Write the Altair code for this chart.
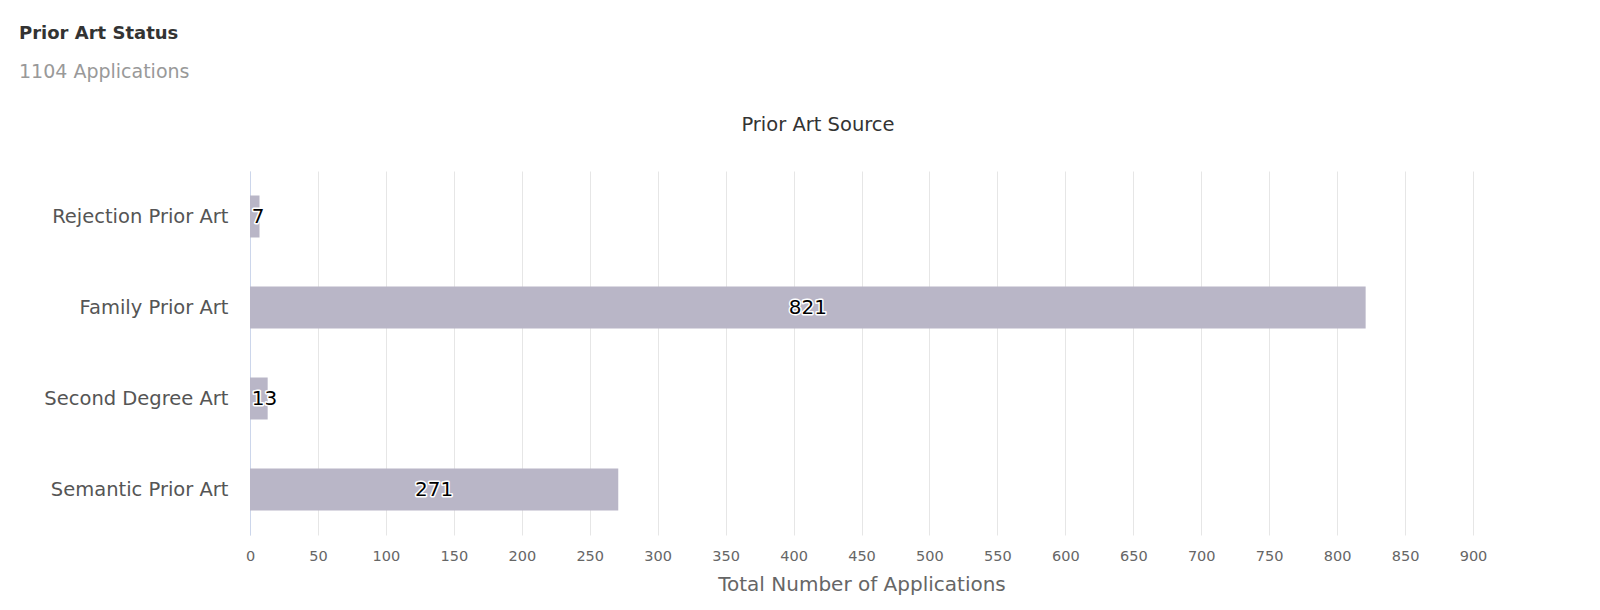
import altair as alt
import pandas as pd

categories = ["Rejection Prior Art", "Family Prior Art", "Second Degree Art", "Semantic Prior Art"]
values = [7, 821, 13, 271]
x_ticks = list(range(0, 901, 50))

df = pd.DataFrame({"source": categories, "count": values})

FONT = "DejaVu Sans"
W, H = 1223, 364

base = alt.Chart(df)

y_enc = alt.Y("source:N", sort=categories,
              scale=alt.Scale(paddingInner=0, paddingOuter=0),
              axis=alt.Axis(title=None, ticks=False, grid=False, domain=True,
                            domainColor="#ccd6eb", domainWidth=1,
                            labelFont=FONT, labelFontSize=19.5, labelColor="#555555",
                            labelPadding=22, labelLimit=400))

x_scale = alt.Scale(domain=[0, 900], nice=False, zero=True)

bars = base.mark_bar(color="#b9b6c7", size=42).encode(
    x=alt.X("count:Q", scale=x_scale,
            axis=alt.Axis(title="Total Number of Applications", values=x_ticks,
                          grid=True, gridColor="#e6e6e6", gridWidth=1,
                          domain=False, ticks=False, labelFlush=False,
                          labelFont=FONT, labelFontSize=14.5, labelColor="#666666",
                          labelPadding=14,
                          titleFont=FONT, titleFontSize=20, titleFontWeight="normal",
                          titleColor="#666666", titlePadding=12)),
    y=y_enc,
)

lab = base.transform_calculate(
    lx="max(datum.count/2, (1.7 + 6.4*length(toString(datum.count)))/1.3586)"
)

outline = lab.mark_text(font=FONT, fontSize=20, align="center", baseline="middle",
                        stroke="white", strokeWidth=3, strokeJoin="round",
                        fill="white").encode(
    x=alt.X("lx:Q", scale=x_scale), y=alt.Y("source:N", sort=categories),
    text="count:Q")
labels = lab.mark_text(font=FONT, fontSize=20, align="center", baseline="middle",
                       fill="#000000").encode(
    x=alt.X("lx:Q", scale=x_scale), y=alt.Y("source:N", sort=categories),
    text="count:Q")

subtitle_mark = alt.Chart(pd.DataFrame({"t": ["Prior Art Source"]})).mark_text(
    font=FONT, fontSize=19.5, color="#333333", align="center", baseline="middle"
).encode(x=alt.value(568), y=alt.value(-46), text="t:N")

chart = alt.layer(bars, outline, labels, subtitle_mark).properties(
    width=W, height=H,
    autosize=alt.AutoSizeParams(type="none"),
    padding={"left": 242, "top": 163, "right": 119, "bottom": 67},
    title=alt.TitleParams(text="Prior Art Status", subtitle="1104 Applications",
                          anchor="start", frame="group", dx=-231, offset=33,
                          font=FONT, fontSize=18, fontWeight="bold", color="#333333",
                          subtitleFont=FONT, subtitleFontSize=19,
                          subtitleColor="#999999", subtitlePadding=20),
).configure_view(stroke=None).resolve_scale(x="shared", y="shared")

chart.save("out.html", embed_options={"renderer": "svg", "actions": False})
